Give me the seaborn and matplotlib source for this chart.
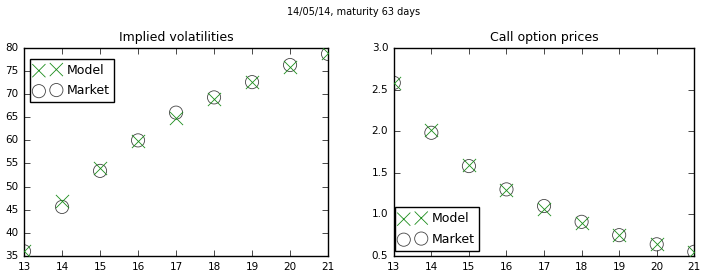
import matplotlib
matplotlib.use("Agg")
import matplotlib.pyplot as plt
import seaborn as sns
import pandas as pd

strikes = [13, 14, 15, 16, 17, 18, 19, 20, 21]
vol_model = [36.0, 46.8, 54.0, 59.8, 64.8, 69.0, 72.6, 75.8, 78.8]
vol_market = [36.0, 45.6, 53.4, 60.0, 66.0, 69.3, 72.6, 76.3, 78.7]
price_model = [2.58, 2.01, 1.59, 1.29, 1.06, 0.90, 0.75, 0.64, 0.55]
price_market = [2.58, 1.98, 1.58, 1.30, 1.10, 0.91, 0.75, 0.64, 0.55]

plt.style.use("classic")
plt.rcParams["font.family"] = ["DejaVu Sans"]

fig = plt.figure(figsize=(7.07, 2.77), dpi=100)
fig.patch.set_facecolor("white")
ax1 = fig.add_axes([0.034, 0.076, 0.430, 0.751])
ax2 = fig.add_axes([0.557, 0.076, 0.425, 0.751])

panels = [
    (ax1, vol_model, vol_market, "Implied volatilities", (35, 80),
     "upper left", (0.02, 0.947)),
    (ax2, price_model, price_market, "Call option prices", (0.5, 3.0),
     "lower left", (0.004, 0.024)),
]

for ax, model, market, title, ylim, loc, anchor in panels:
    df = pd.DataFrame({"strike": strikes, "model": model, "market": market})
    sns.scatterplot(data=df, x="strike", y="model", marker="x", s=90,
                    color="#1a8c1a", linewidth=0.6, ax=ax, label="Model", zorder=3)
    sns.scatterplot(data=df, x="strike", y="market", marker="o", s=90,
                    facecolor="none", edgecolor="#444444", linewidth=0.6,
                    ax=ax, label="Market", zorder=2)
    ax.set_xlim(13, 21)
    ax.set_ylim(*ylim)
    ax.set_xlabel("")
    ax.set_ylabel("")
    ax.set_title(title, fontsize=9)
    ax.tick_params(labelsize=7.5, direction="in")
    ax.legend(loc=loc, bbox_to_anchor=anchor, borderaxespad=0, fontsize=9,
              scatterpoints=2, frameon=True, handletextpad=0.5,
              borderpad=0.4, labelspacing=0.6)

fig.suptitle("14/05/14, maturity 63 days", fontsize=7, y=0.975)
fig.savefig("out.png", dpi=100, facecolor="white")
